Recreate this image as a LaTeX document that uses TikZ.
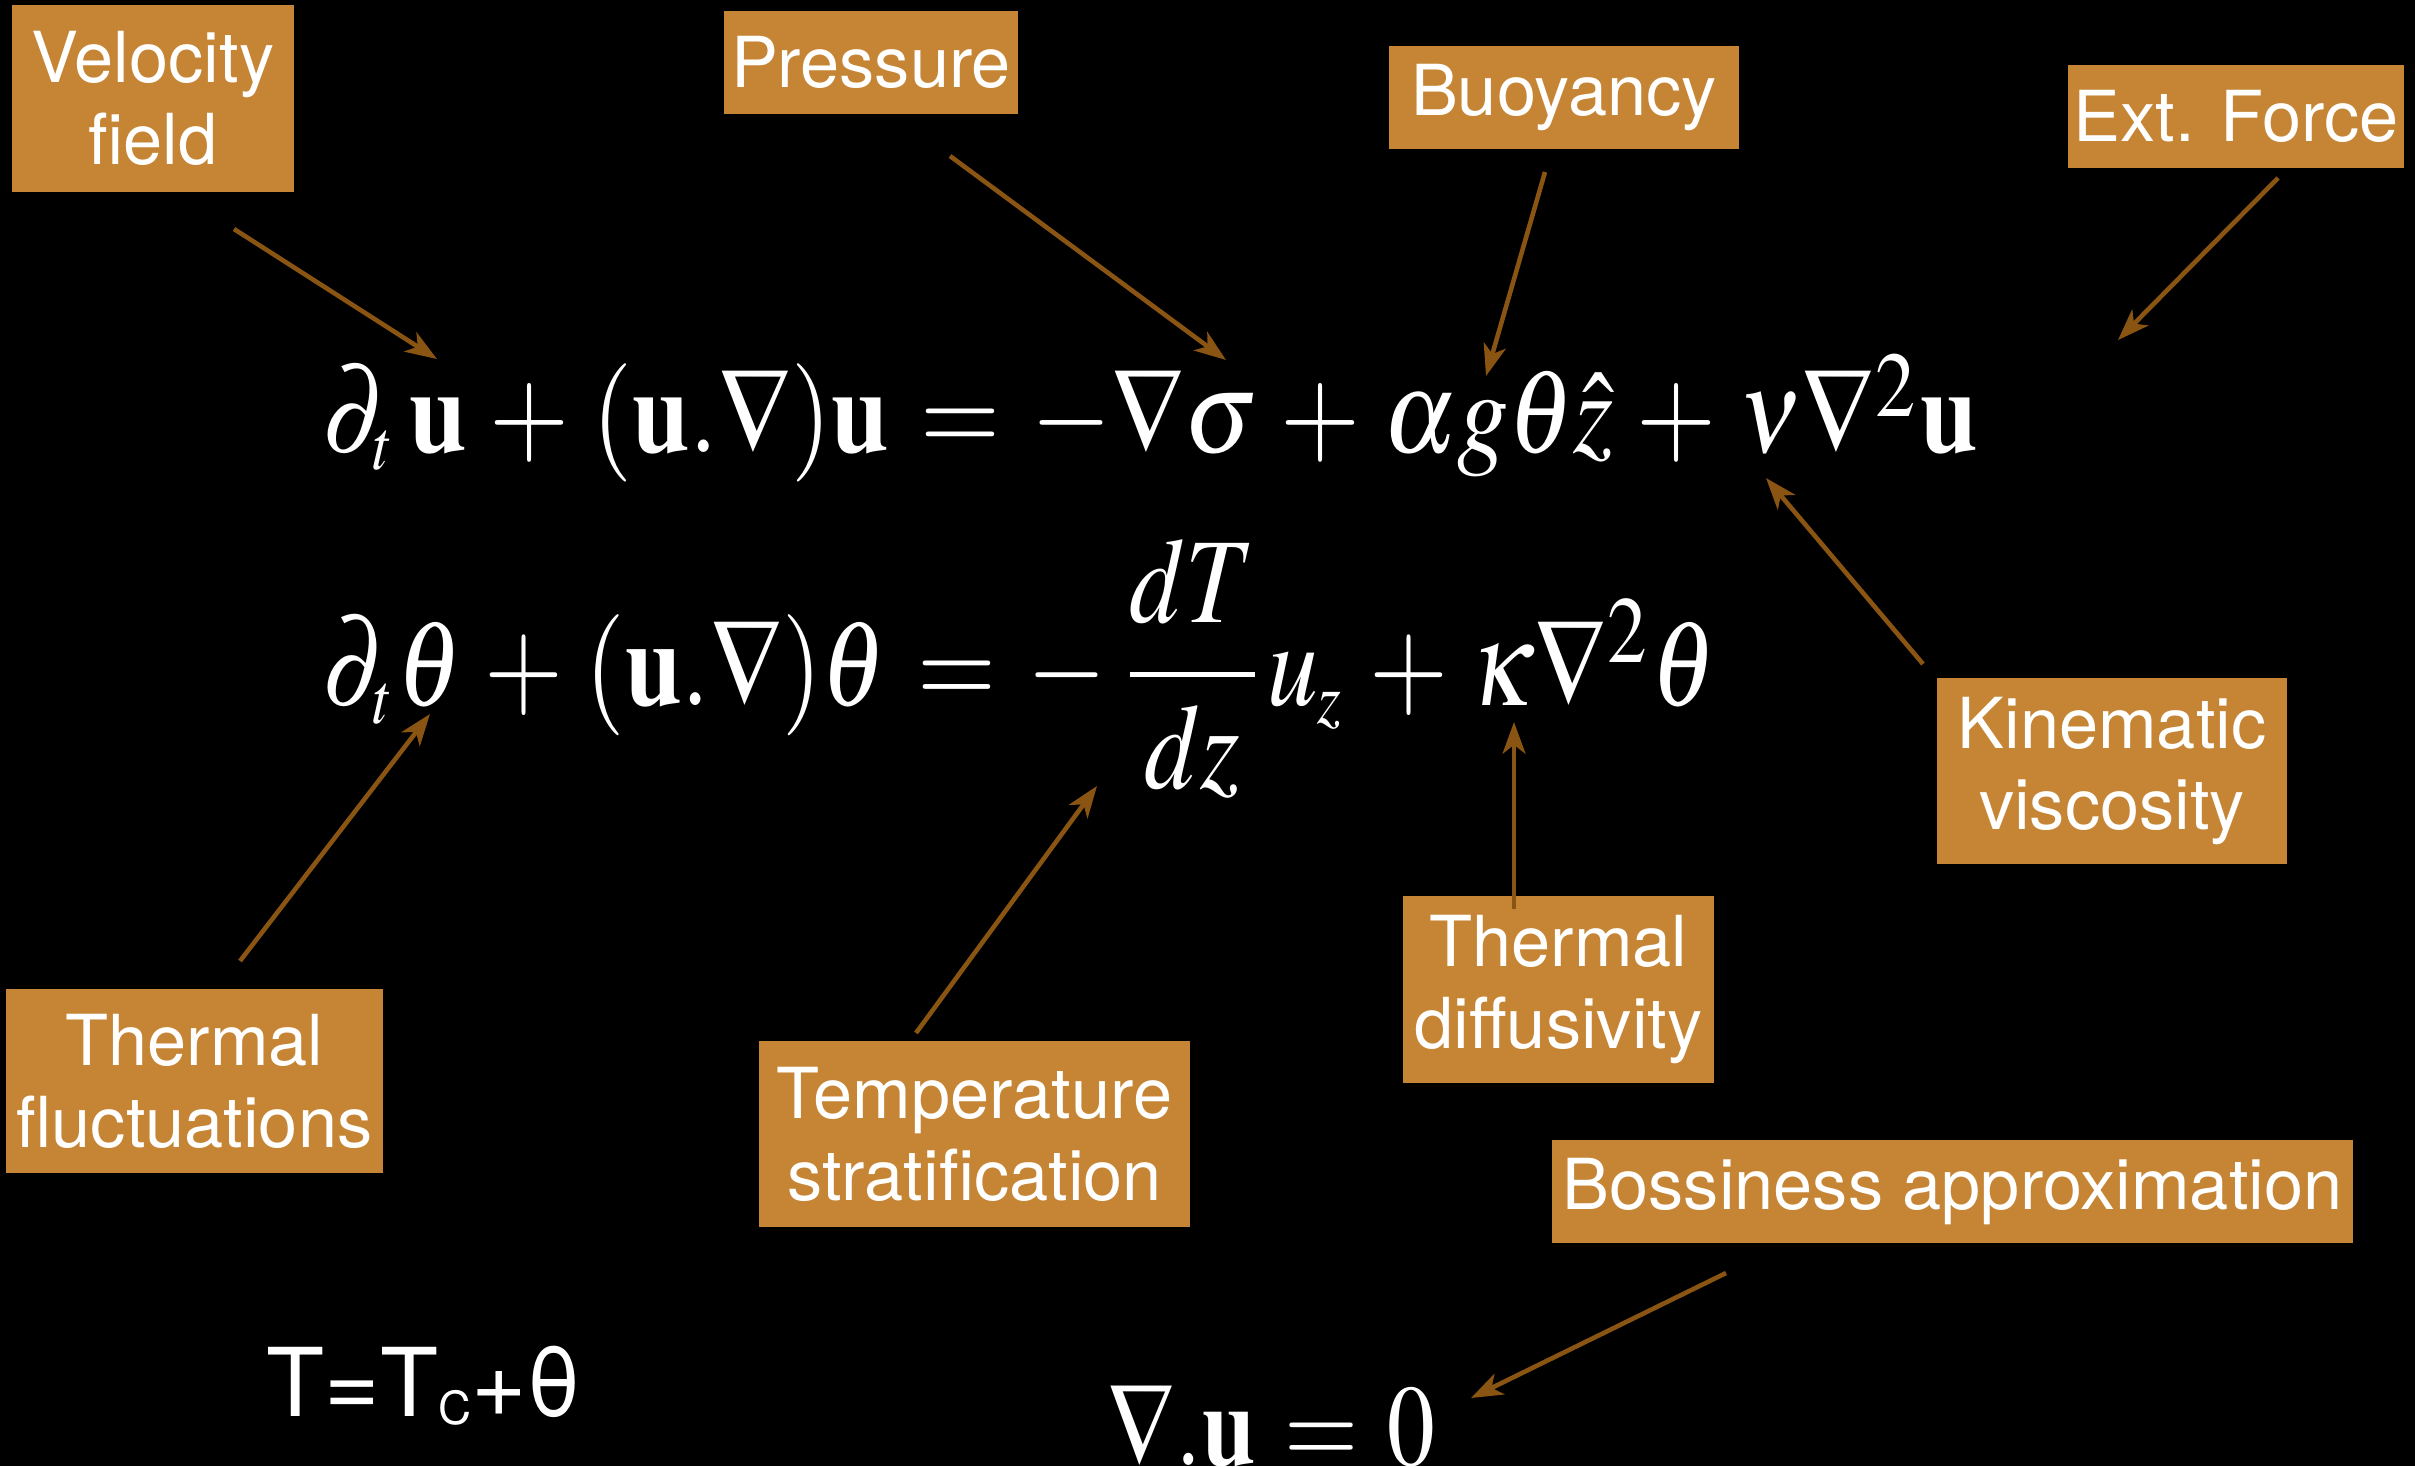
\documentclass[tikz,border=0pt]{standalone}
\usepackage{mathptmx}
\usepackage{graphicx}
\usepackage[no-math]{fontspec}
\setmainfont{TeX Gyre Heros}
\usetikzlibrary{arrows.meta}
\definecolor{boxfill}{HTML}{C68534}
\definecolor{arrowc}{HTML}{8A5412}
\newsavebox\myeqbox
\newlength\mynablaht
\newcommand\myfiteq[3]{% #1 target width, #2 target nabla height, #3 formula
  \sbox\myeqbox{#3}%
  \settoheight\mynablaht{$\nabla$}%
  \pgfmathsetmacro\myeqsx{#1/\the\wd\myeqbox}%
  \pgfmathsetmacro\myeqsy{#2/\the\mynablaht}%
  \scalebox{\myeqsx}[\myeqsy]{\usebox\myeqbox}}
\newcommand\opsp{\mkern1.5mu}
\newcommand\sqtwo{\raisebox{-0.6pt}{\scalebox{1.3}{$\scriptscriptstyle 2$}}}
\begin{document}
\begin{tikzpicture}[x=0.01cm,y=-0.01cm,
  lbl/.style={fill=boxfill,text=white,inner sep=0pt,align=center,
    font=\fontsize{20}{23.3}\selectfont},
  arr/.style={draw=arrowc,line width=1.3pt,
    -{Stealth[length=9pt,width=6.5pt,inset=2.5pt,fill=arrowc]}},
  eq/.style={text=white,inner sep=0pt,anchor=base west}]
\fill[black] (0,0) rectangle (2415,1466);
\useasboundingbox (0,0) rectangle (2415,1466);

% labels
\node[lbl,minimum width=2.82cm,minimum height=1.87cm] (vel) at (153,98.5) {Velocity\\field};
\node[lbl,minimum width=2.94cm,minimum height=1.03cm] (pre) at (871,62.5) {Pressure};
\node[lbl,minimum width=3.50cm,minimum height=1.03cm] (buo) at (1564,97.5) {Buoyancy};
\node[lbl,minimum width=3.36cm,minimum height=1.03cm] (ext) at (2236,116.5) {Ext. Force};
\node[lbl,minimum width=3.50cm,minimum height=1.86cm] (kin) at (2112,771) {Kinematic\\viscosity};
\node[lbl,minimum width=3.11cm,minimum height=1.87cm] (dif) at (1558.5,989.5) {Thermal\\diffusivity};
\node[lbl,minimum width=3.77cm,minimum height=1.84cm] (flu) at (194.5,1081) {Thermal\\fluctuations};
\node[lbl,minimum width=4.31cm,minimum height=1.86cm] (str) at (974.5,1134) {Temperature\\stratification};
\node[lbl,minimum width=8.01cm,minimum height=1.03cm] (bos) at (1952.5,1191.5) {Bossiness approximation};

% equations
\node[eq] (eq1) at (322,452) {\myfiteq{16.54cm}{0.85cm}{$\partial_{\scriptscriptstyle t}\,\mathbf{u}\opsp+\opsp(\mathbf{u}.\nabla)\mathbf{u}\opsp=\opsp-\nabla\sigma\opsp+\opsp\alpha g\theta\hat{z}\opsp+\opsp\nu\nabla^{\sqtwo}\mathbf{u}$}};
\node[eq] (eq2) at (322,705) {\myfiteq{13.93cm}{0.87cm}{$\displaystyle\partial_{\scriptscriptstyle t}\theta\opsp+\opsp(\mathbf{u}.\nabla)\theta\opsp=\opsp-\,\frac{dT}{dz}u_{\scriptscriptstyle z}\opsp+\opsp\kappa\nabla^{\sqtwo}\theta$}};
\node[eq] (eq3) at (1107,1465) {\myfiteq{3.27cm}{0.83cm}{$\nabla.\mathbf{u}\opsp=\opsp0$}};
\node[eq,font=\fontsize{27}{30}\selectfont] (tt) at (266,1416) {T=T\raisebox{-2.3pt}{\fontsize{13}{13}\selectfont C}+θ};

% arrow coordinates
\coordinate (vel1) at (234,229);  \coordinate (vel2) at (437,359);
\coordinate (pre1) at (950,156);  \coordinate (pre2) at (1226,360);
\coordinate (buo1) at (1545,172); \coordinate (buo2) at (1486,376);
\coordinate (ext1) at (2278,178); \coordinate (ext2) at (2118,340);
\coordinate (kin1) at (1923,664); \coordinate (kin2) at (1766,478);
\coordinate (dif1) at (1514,909); \coordinate (dif2) at (1514,722);
\coordinate (flu1) at (240,961);  \coordinate (flu2) at (430,714);
\coordinate (str1) at (916,1033); \coordinate (str2) at (1097,786);
\coordinate (bos1) at (1726,1273);\coordinate (bos2) at (1471,1398);

\draw[arr] (vel1) -- (vel2);
\draw[arr] (pre1) -- (pre2);
\draw[arr] (buo1) -- (buo2);
\draw[arr] (ext1) -- (ext2);
\draw[arr] (kin1) -- (kin2);
\draw[arr] (dif1) -- (dif2);
\draw[arr] (flu1) -- (flu2);
\draw[arr] (str1) -- (str2);
\draw[arr] (bos1) -- (bos2);
\end{tikzpicture}
\end{document}
